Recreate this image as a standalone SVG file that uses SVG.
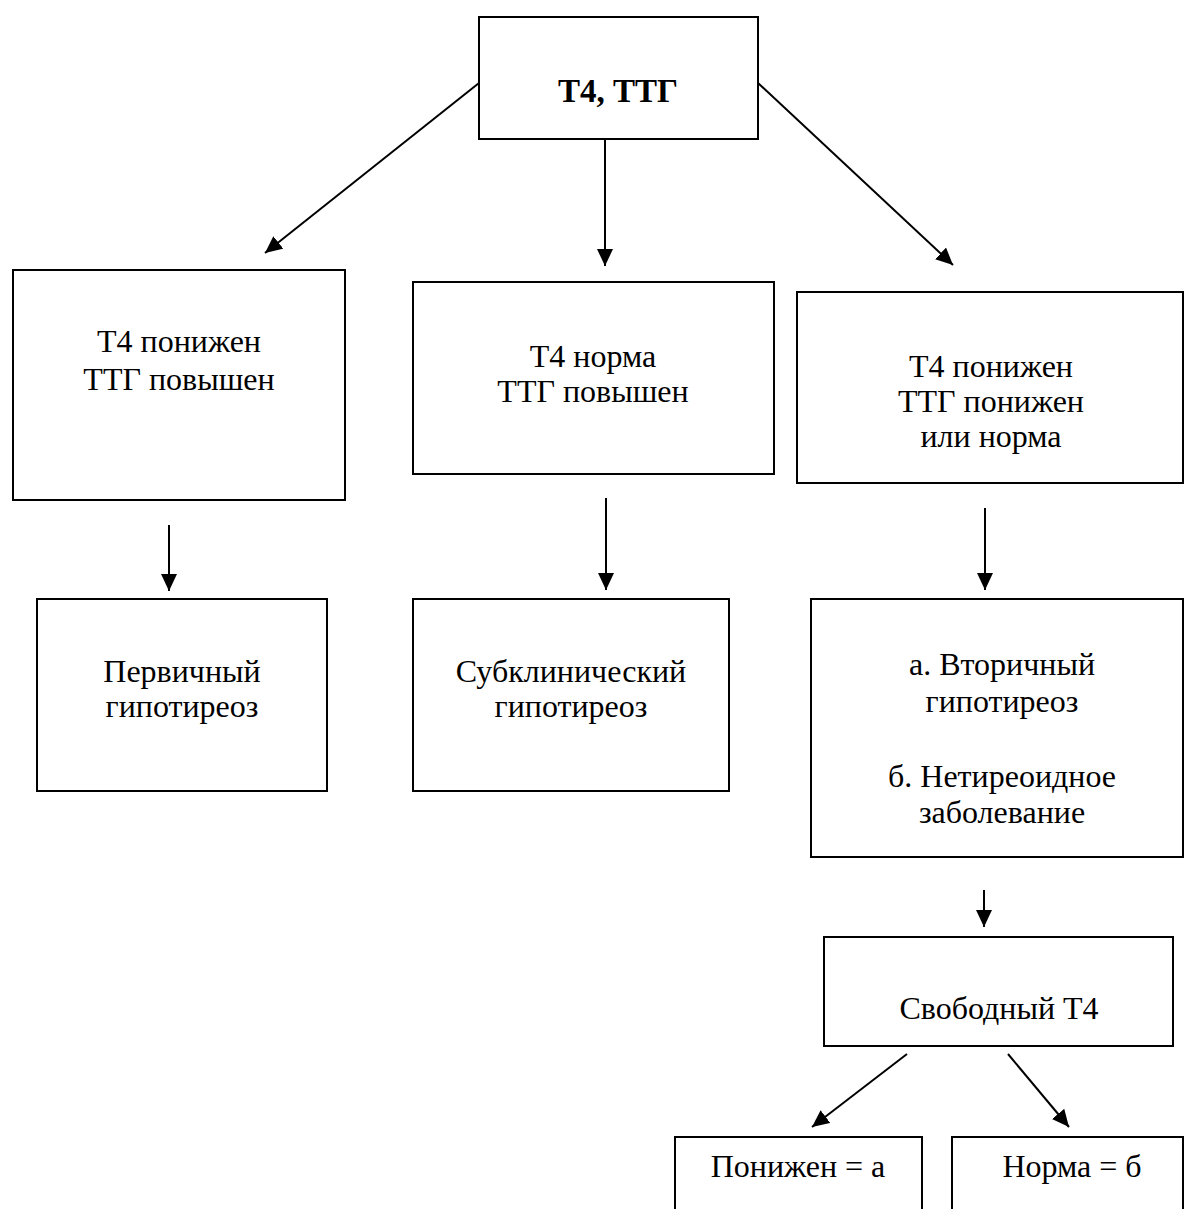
<svg xmlns="http://www.w3.org/2000/svg" width="1185" height="1209" viewBox="0 0 1185 1209">
<style>
.box{fill:#fff;stroke:#000;stroke-width:2}
.t{font-family:"Liberation Serif","Times New Roman",serif;font-size:32px;fill:#000;text-anchor:middle}
.b{font-weight:bold;font-size:33px}
.c{stroke:#000;stroke-width:2;fill:none;marker-end:url(#ah)}
</style>
<defs>
<marker id="ah" markerUnits="userSpaceOnUse" markerWidth="18" markerHeight="18" refX="17" refY="8" orient="auto">
<path d="M0,0 L17,8 L0,16 z" fill="#000"/>
</marker>
</defs>
<rect width="1185" height="1209" fill="#fff"/>
<g id="connectors">
<line class="c" x1="479" y1="83" x2="265" y2="253"/>
<line class="c" x1="605" y1="140" x2="605" y2="266"/>
<line class="c" x1="758" y1="83" x2="953" y2="265"/>
<line class="c" x1="169" y1="525" x2="169" y2="591"/>
<line class="c" x1="606" y1="498" x2="606" y2="590"/>
<line class="c" x1="985" y1="508" x2="985" y2="590"/>
<line class="c" x1="984" y1="890" x2="984" y2="927"/>
<line class="c" x1="907" y1="1054" x2="812" y2="1127"/>
<line class="c" x1="1008" y1="1054" x2="1069" y2="1127"/>
</g>
<g id="n-root">
<rect class="box" x="479" y="17" width="279" height="122"/>
<text class="t b" x="618" y="102">Т4, ТТГ</text>
</g>
<g id="n-left">
<rect class="box" x="13" y="270" width="332" height="230"/>
<text class="t" x="179" y="352">Т4 понижен</text>
<text class="t" x="179" y="390">ТТГ повышен</text>
</g>
<g id="n-mid">
<rect class="box" x="413" y="282" width="361" height="192"/>
<text class="t" x="593" y="367">Т4 норма</text>
<text class="t" x="593" y="402">ТТГ повышен</text>
</g>
<g id="n-right">
<rect class="box" x="797" y="292" width="386" height="191"/>
<text class="t" x="991" y="377">Т4 понижен</text>
<text class="t" x="991" y="412">ТТГ понижен</text>
<text class="t" x="991" y="447">или норма</text>
</g>
<g id="n-primary">
<rect class="box" x="37" y="599" width="290" height="192"/>
<text class="t" x="182" y="682">Первичный</text>
<text class="t" x="182" y="717">гипотиреоз</text>
</g>
<g id="n-subclinical">
<rect class="box" x="413" y="599" width="316" height="192"/>
<text class="t" x="571" y="682">Субклинический</text>
<text class="t" x="571" y="717">гипотиреоз</text>
</g>
<g id="n-secondary">
<rect class="box" x="811" y="599" width="372" height="258"/>
<text class="t" x="1002" y="675">а. Вторичный</text>
<text class="t" x="1002" y="712">гипотиреоз</text>
<text class="t" x="1002" y="787">б. Нетиреоидное</text>
<text class="t" x="1002" y="823">заболевание</text>
</g>
<g id="n-freet4">
<rect class="box" x="824" y="937" width="349" height="109"/>
<text class="t" x="999" y="1019">Свободный Т4</text>
</g>
<g id="n-low">
<path class="box" d="M675,1210 V1137 H922 V1210"/>
<text class="t" x="798" y="1177">Понижен = а</text>
</g>
<g id="n-norm">
<path class="box" d="M952,1210 V1137 H1183 V1210"/>
<text class="t" x="1072" y="1177">Норма = б</text>
</g>
</svg>
